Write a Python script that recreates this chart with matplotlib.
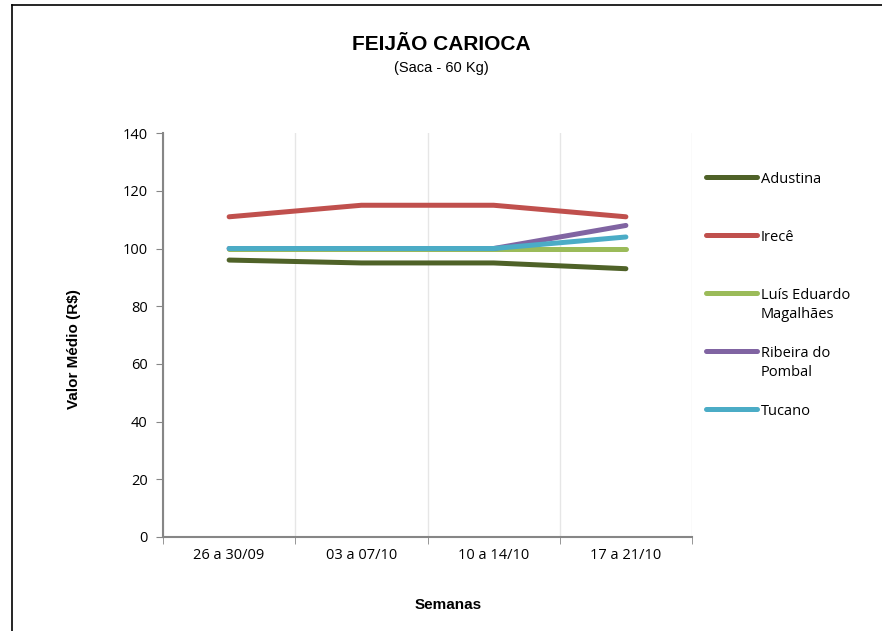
import matplotlib.pyplot as plt
from matplotlib.lines import Line2D

# Data
semanas = ['26 a 30/09', '03 a 07/10', '10 a 14/10', '17 a 21/10']
adustina = [96, 95, 95, 93]
irece = [111, 115, 115, 111]
luis_eduardo = [100, 100, 100, 100]
ribeira = [100, 100, 100, 108]
tucano = [100, 100, 100, 104]

nomes = ['Adustina', 'Irecê', 'Luís Eduardo\nMagalhães', 'Ribeira do\nPombal', 'Tucano']
series = [adustina, irece, luis_eduardo, ribeira, tucano]
cores = ['#4F6228', '#C0504D', '#9BBB59', '#8064A2', '#4BACC6']

plt.rcParams['font.family'] = ['Liberation Sans', 'DejaVu Sans']

fig = plt.figure(figsize=(8.82, 6.31), dpi=100)
ax = fig.add_axes([0.1848, 0.149, 0.5998, 0.640])

x = range(len(semanas))
for vals, cor in zip(series, cores):
    ax.plot(x, vals, color=cor, linewidth=3.6, solid_capstyle='round')

ax.set_xlim(-0.5, len(semanas) - 0.5)
ax.set_ylim(0, 140)
ax.set_yticks(range(0, 141, 20))
ax.set_xticks(x)
ax.set_xticklabels(semanas, fontsize=10.5, family='Open Sans')
ax.tick_params(axis='x', length=0, pad=8)
ax.tick_params(axis='y', labelsize=10.5, length=5, color='#868686', pad=6)
for lbl in ax.get_yticklabels():
    lbl.set_family('Open Sans')

# boundary ticks and vertical gridlines between categories
ax.set_xticks([i - 0.5 for i in range(len(semanas) + 1)], minor=True)
ax.tick_params(axis='x', which='minor', length=5, color='#868686', direction='out')
ax.grid(axis='x', which='minor', color='#E6E6E6', linewidth=1)
ax.set_axisbelow(True)

for s in ['top', 'right']:
    ax.spines[s].set_visible(False)
for s in ['left', 'bottom']:
    ax.spines[s].set_color('#868686')
    ax.spines[s].set_linewidth(1.5)

ax.set_ylabel('Valor Médio (R$)', fontsize=11, fontweight='bold')
ax.yaxis.set_label_coords(-0.155, 0.465)
ax.set_xlabel('Semanas', fontsize=11, fontweight='bold')
ax.xaxis.set_label_coords(0.54, -0.152)

fig.text(0.5, 0.930, 'FEIJÃO CARIOCA', ha='center', va='center', fontsize=15, fontweight='bold')
fig.text(0.5, 0.892, '(Saca - 60 Kg)', ha='center', va='center', fontsize=10.5)

# legend drawn entry by entry
y0 = 1 - 177 / 631
dy = 58 / 631
for i, (nome, cor) in enumerate(zip(nomes, cores)):
    y = y0 - i * dy
    fig.add_artist(Line2D([706 / 882, 757 / 882], [y, y], color=cor, linewidth=3.6,
                          solid_capstyle='round', transform=fig.transFigure))
    fig.text(761 / 882, y + 0.008, nome, ha='left', va='top', fontsize=10.5,
             family='Open Sans', linespacing=1.35)

# page border
fig.add_artist(Line2D([12 / 882, 12 / 882], [0, 1 - 5 / 631], color='black', linewidth=1.2,
                      transform=fig.transFigure))
fig.add_artist(Line2D([12 / 882, 1], [1 - 5 / 631, 1 - 5 / 631], color='black', linewidth=1.2,
                      transform=fig.transFigure))

fig.savefig('out.png', dpi=100)
